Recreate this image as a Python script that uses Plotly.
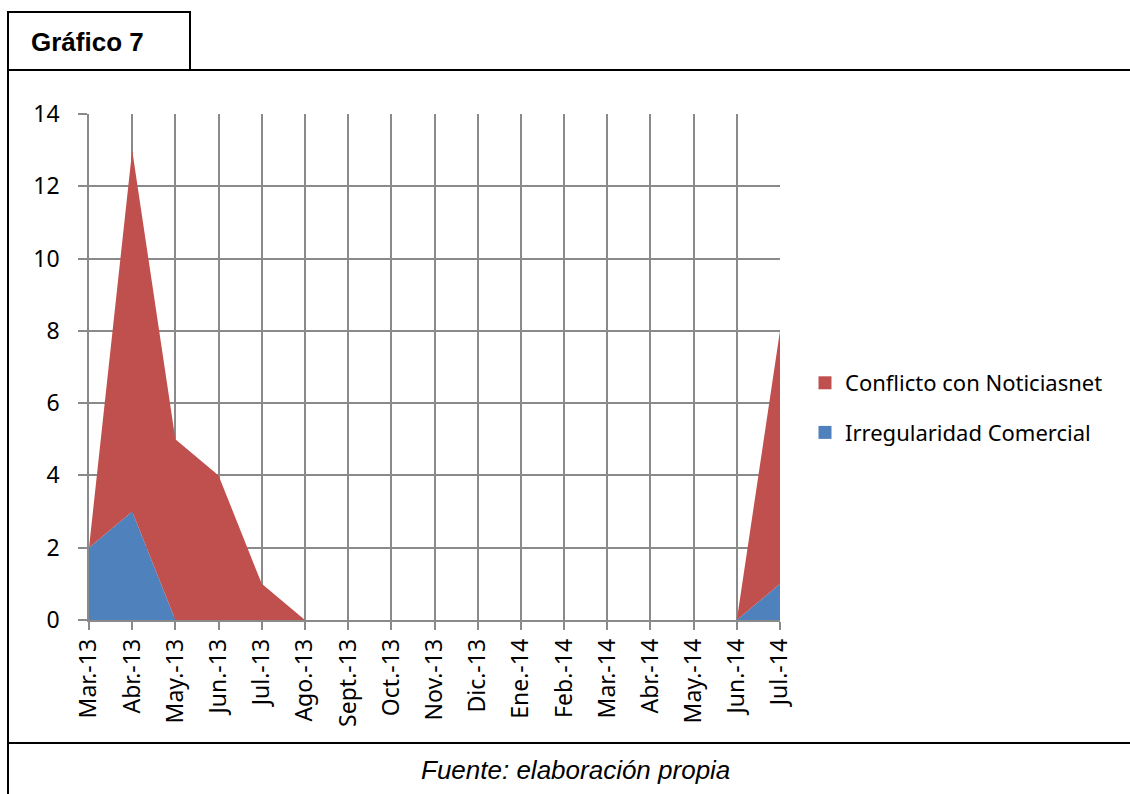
import plotly.graph_objects as go

# ── Data ──────────────────────────────────────────────────────────────────────
months = ["Mar.-13", "Abr.-13", "May.-13", "Jun.-13", "Jul.-13", "Ago.-13",
          "Sept.-13", "Oct.-13", "Nov.-13", "Dic.-13", "Ene.-14", "Feb.-14",
          "Mar.-14", "Abr.-14", "May.-14", "Jun.-14", "Jul.-14"]
irregularidad = [2, 3, 0, 0, 0, 0, 0, 0, 0, 0, 0, 0, 0, 0, 0, 0, 1]
conflicto = [0, 10, 5, 4, 1, 0, 0, 0, 0, 0, 0, 0, 0, 0, 0, 0, 7]
y_ticks = [0, 2, 4, 6, 8, 10, 12, 14]

W, H = 1130, 794
GRID = "#8a8a8a"
BLUE, RED = "#4F81BD", "#C0504D"
TICK_FONT = dict(family="Noto Sans, Open Sans, sans-serif", size=23, color="black")
LEGEND_FONT = dict(family="Noto Sans, Open Sans, sans-serif", size=22, color="black")


def px_x(x):
    return x / W


def px_y(y):
    return 1 - y / H


fig = go.Figure()
# stacked areas (legend handled by square-swatch entries below)
fig.add_trace(go.Scatter(
    x=months, y=irregularidad, name="Irregularidad Comercial",
    stackgroup="one", mode="none", fillcolor=BLUE, showlegend=False,
))
fig.add_trace(go.Scatter(
    x=months, y=conflicto, name="Conflicto con Noticiasnet",
    stackgroup="one", mode="none", fillcolor=RED, showlegend=False,
))
# legend-only swatches (square markers like the original)
for name, color, grp in [("Conflicto con Noticiasnet", RED, "con"),
                         ("Irregularidad Comercial", BLUE, "irr")]:
    fig.add_trace(go.Scatter(
        x=[None], y=[None], mode="markers", name=name, legendgroup=grp,
        marker=dict(symbol="square", size=13, color=color),
    ))

# frame lines and title box
line = dict(color="black", width=2)
fig.add_shape(type="rect", xref="paper", yref="paper",
              x0=px_x(8), x1=px_x(190), y0=px_y(70), y1=px_y(12), line=line)
fig.add_shape(type="line", xref="paper", yref="paper",
              x0=px_x(8), x1=1, y0=px_y(70), y1=px_y(70), line=line)
fig.add_shape(type="line", xref="paper", yref="paper",
              x0=px_x(8), x1=px_x(8), y0=0, y1=px_y(12), line=line)
fig.add_shape(type="line", xref="paper", yref="paper",
              x0=px_x(8), x1=1, y0=px_y(743), y1=px_y(743), line=line)

fig.add_annotation(text="<b>Gráfico 7</b>", xref="paper", yref="paper",
                   x=px_x(29), y=px_y(42), xanchor="left", yanchor="middle",
                   showarrow=False,
                   font=dict(family="Liberation Sans, Arial", size=26, color="black"))
fig.add_annotation(text="<i>Fuente: elaboración propia</i>", xref="paper", yref="paper",
                   x=px_x(575), y=px_y(770), xanchor="center", yanchor="middle",
                   showarrow=False,
                   font=dict(family="Liberation Sans, Arial", size=26, color="black"))

fig.update_layout(
    width=W, height=H,
    margin=dict(l=0, r=0, t=0, b=0),
    paper_bgcolor="white",
    plot_bgcolor="white",
    showlegend=True,
    legend=dict(x=px_x(805), y=px_y(408), xanchor="left", yanchor="middle",
                traceorder="grouped", font=LEGEND_FONT,
                itemwidth=30, tracegroupgap=18),
    xaxis=dict(
        domain=[px_x(89), px_x(780)],
        type="category", range=[0, len(months) - 1],
        tickangle=-90, tickfont=TICK_FONT,
        showgrid=True, gridcolor=GRID, gridwidth=1.5,
        showline=True, linecolor=GRID, linewidth=1.5,
        ticks="outside", ticklen=8, tickcolor=GRID, tickwidth=1.5,
        automargin=False,
    ),
    yaxis=dict(
        domain=[px_y(620), px_y(114)],
        range=[0, 14], tickvals=y_ticks, tickfont=TICK_FONT,
        showgrid=True, gridcolor=GRID, gridwidth=1.5, zeroline=False,
        showline=True, linecolor=GRID, linewidth=1.5,
        ticks="outside", ticklen=9, tickcolor=GRID, tickwidth=1.5,
        ticklabelstandoff=14,
        automargin=False,
    ),
)

fig.write_html("out.html", config={"displayModeBar": False},
               post_script="document.body.style.margin='0';")
